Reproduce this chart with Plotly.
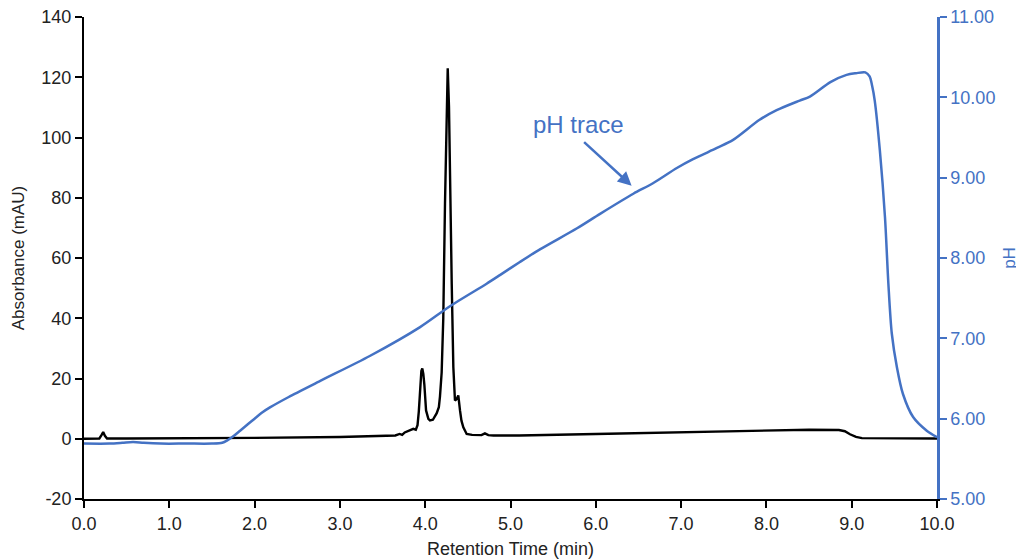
import plotly.graph_objects as go

# Absorbance (black) trace
abs_time = [0.0, 0.18, 0.205, 0.225, 0.245, 0.27, 0.5, 1.0, 2.0, 3.0, 3.35, 3.6, 3.65, 3.70, 3.73, 3.76, 3.80, 3.82, 3.86, 3.89, 3.91,
            3.925, 3.94, 3.955, 3.966, 3.978, 3.99, 4.00, 4.01, 4.037, 4.056, 4.09, 4.135, 4.16, 4.173, 4.193, 4.212,
            4.232, 4.252, 4.264, 4.279, 4.291, 4.311, 4.330, 4.349, 4.369, 4.388, 4.408, 4.425, 4.447, 4.486,
            4.55, 4.66, 4.70, 4.74, 4.8, 5.1, 6.0, 7.0, 8.0, 8.1, 8.5, 8.85, 8.92, 8.98, 9.05, 9.12, 9.5, 10.0]
abs_mau = [0.0, 0.1, 1.2, 2.2, 1.0, 0.1, 0.1, 0.1, 0.3, 0.6, 0.8, 1.0, 1.1, 1.6, 1.3, 2.1, 2.6, 2.7, 3.3, 3.0, 4.5,
           9.0, 18.0, 22.5, 23.3, 21.5, 18.0, 13.0, 9.4, 6.6, 6.1, 6.3, 8.5, 10.5, 14.0, 22.0, 40.0,
           78.0, 113.0, 123.0, 110.0, 84.6, 51.4, 23.7, 12.7, 13.2, 14.4, 9.4, 6.0, 3.8, 1.6,
           1.3, 1.2, 1.8, 1.2, 1.1, 1.1, 1.6, 2.2, 2.7, 3.0, 3.0, 2.9, 2.5, 1.5, 0.6, 0.2, 0.1, 0.1]

# pH (blue) trace
ph_time = [0.0, 0.3, 0.45, 0.575, 0.7, 0.9, 1.2, 1.5, 1.62, 1.68, 1.75, 1.83, 1.92, 2.0, 2.08, 2.18, 2.4, 2.77, 3.35, 3.94, 4.29,
           4.72, 4.88, 5.11, 5.35, 5.78, 6.05, 6.44, 6.67, 6.95, 7.14, 7.42, 7.61, 7.92, 8.12, 8.39, 8.51, 8.75,
           8.94, 9.05, 9.16, 9.21, 9.24, 9.27, 9.33, 9.39, 9.43, 9.47, 9.53, 9.60, 9.72, 9.88, 10.0]
ph_vals = [5.69, 5.69, 5.70, 5.71, 5.70, 5.69, 5.69, 5.69, 5.70, 5.73, 5.78, 5.85, 5.93, 6.00, 6.07, 6.14, 6.27, 6.47, 6.78, 7.14, 7.40,
           7.68, 7.79, 7.95, 8.11, 8.37, 8.55, 8.80, 8.93, 9.12, 9.23, 9.37, 9.47, 9.72, 9.84, 9.96, 10.01, 10.19,
           10.28, 10.30, 10.31, 10.26, 10.14, 9.96, 9.34, 8.51, 7.68, 7.06, 6.64, 6.31, 6.02, 5.85, 5.77]

x_ticks = [0, 1, 2, 3, 4, 5, 6, 7, 8, 9, 10]
y_ticks = [-20, 0, 20, 40, 60, 80, 100, 120, 140]
ph_ticks = [5, 6, 7, 8, 9, 10, 11]

BLUE = "#4472C4"
FONT = "Liberation Sans, Arial, Helvetica, sans-serif"
TXT = "#222222"

fig = go.Figure()
fig.add_trace(go.Scatter(x=ph_time, y=ph_vals, mode="lines", yaxis="y2",
                         line=dict(color=BLUE, width=2.5, shape="spline", smoothing=0.8),
                         hoverinfo="skip", showlegend=False))
fig.add_trace(go.Scatter(x=abs_time, y=abs_mau, mode="lines",
                         line=dict(color="black", width=2.4),
                         hoverinfo="skip", showlegend=False))

# the page body adds an 8 px offset, so the figure is sized to fit the window
fig.update_layout(
    width=1016, height=551,
    margin=dict(l=76, r=87, t=9, b=60, autoexpand=False),
    paper_bgcolor="white", plot_bgcolor="white",
    font=dict(family=FONT, size=18, color=TXT),
    xaxis=dict(range=[0, 10], tickvals=x_ticks, ticktext=[f"{v:.1f}" for v in x_ticks],
               automargin=False, ticklabeloverflow="allow",
               showgrid=False, zeroline=False, showline=True, linecolor="black", linewidth=2,
               ticks="outside", ticklen=7, tickwidth=2, tickcolor="black",
               tickfont=dict(size=18, color=TXT),
               title=dict(text="Retention Time (min)", font=dict(size=18, color=TXT), standoff=10)),
    yaxis=dict(range=[-20, 140], tickvals=y_ticks, ticktext=[str(v) for v in y_ticks],
               automargin=False, ticklabeloverflow="allow", showgrid=False, zeroline=False,
               showline=True, linecolor="black", linewidth=2,
               ticks="outside", ticklen=7, tickwidth=2, tickcolor="black",
               tickfont=dict(size=18, color=TXT),
               title=dict(text="Absorbance (mAU)", font=dict(size=17, color=TXT), standoff=12)),
    yaxis2=dict(range=[5, 11], tickvals=ph_ticks, ticktext=[f"{v:.2f}" for v in ph_ticks],
                automargin=False, ticklabeloverflow="allow",
                overlaying="y", side="right", showgrid=False, zeroline=False,
                showline=True, linecolor=BLUE, linewidth=2.5,
                ticks="outside", ticklen=7, tickwidth=2, tickcolor=BLUE,
                tickfont=dict(color=BLUE, size=18),
                title=dict(text="pH", font=dict(color=BLUE, size=17), standoff=9)),
    annotations=[
        dict(x=6.42, y=8.90, xref="x", yref="y2", text="", showarrow=True,
             ax=-49, ay=-45, axref="pixel", ayref="pixel",
             arrowhead=2, arrowsize=1.1, arrowwidth=2.5, arrowcolor=BLUE),
        dict(x=5.80, y=9.66, xref="x", yref="y2", text="pH trace", showarrow=False,
             font=dict(color=BLUE, size=24)),
    ],
)

fig.write_html("out.html")
